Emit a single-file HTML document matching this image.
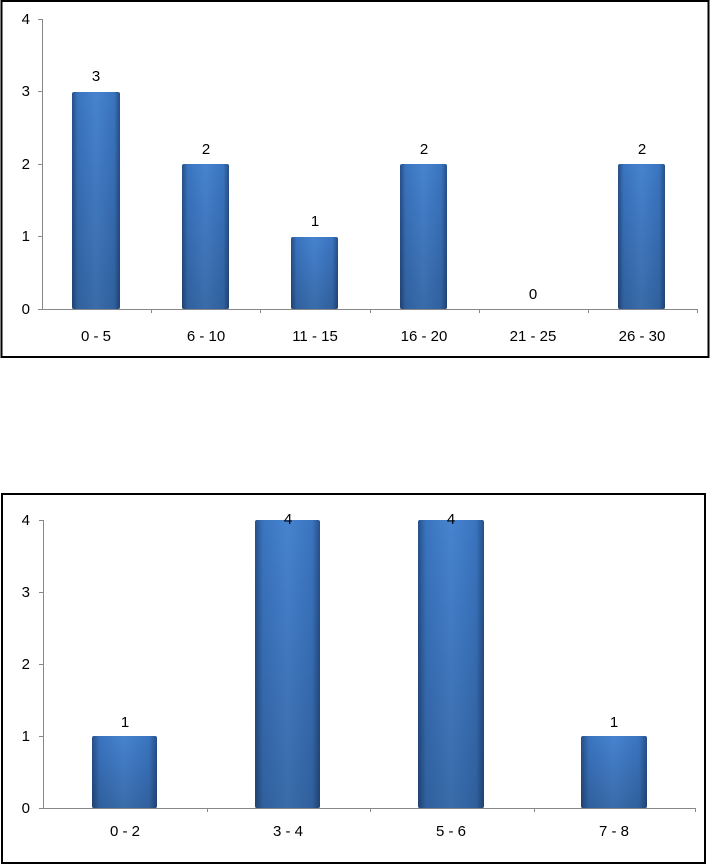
<!DOCTYPE html>
<html><head><meta charset="utf-8"><style>
html,body{margin:0;padding:0;background:#fff;}
svg{display:block;}
text{font-family:"Liberation Sans",Arial,sans-serif;font-size:15px;fill:#000;}
</style></head><body>
<svg width="710" height="866" viewBox="0 0 710 866" xmlns="http://www.w3.org/2000/svg">
<defs>
<linearGradient id="h" x1="0" y1="0" x2="1" y2="0">
<stop offset="0" stop-color="#264f88"/>
<stop offset="0.12" stop-color="#3a74bf"/>
<stop offset="0.5" stop-color="#4683cf"/>
<stop offset="0.88" stop-color="#3a74bf"/>
<stop offset="1" stop-color="#264f88"/>
</linearGradient>
<linearGradient id="v" x1="0" y1="0" x2="0" y2="1">
<stop offset="0" stop-color="#000" stop-opacity="0"/>
<stop offset="1" stop-color="#000" stop-opacity="0.18"/>
</linearGradient>
</defs>
<!-- Chart 1 -->
<rect x="1.5" y="1" width="707" height="356" fill="#fff" stroke="#000" stroke-width="2"/>
<g stroke="#888" stroke-width="1">
<line x1="42.5" y1="19" x2="42.5" y2="310"/>
<line x1="42" y1="309.5" x2="698" y2="309.5"/>
<line x1="38" y1="19.5" x2="42" y2="19.5"/>
<line x1="38" y1="91.5" x2="42" y2="91.5"/>
<line x1="38" y1="164.5" x2="42" y2="164.5"/>
<line x1="38" y1="236.5" x2="42" y2="236.5"/>
<line x1="38" y1="309.5" x2="42" y2="309.5"/>
<line x1="151.5" y1="309" x2="151.5" y2="313"/>
<line x1="260.5" y1="309" x2="260.5" y2="313"/>
<line x1="370.5" y1="309" x2="370.5" y2="313"/>
<line x1="479.5" y1="309" x2="479.5" y2="313"/>
<line x1="588.5" y1="309" x2="588.5" y2="313"/>
<line x1="697.5" y1="309" x2="697.5" y2="313"/>
</g>
<g text-anchor="end">
<text x="30" y="24">4</text><text x="30" y="96">3</text><text x="30" y="169">2</text><text x="30" y="241">1</text><text x="30" y="314">0</text>
</g>
<g>
<rect x="72" y="92" width="48" height="217" rx="2" fill="url(#h)"/><rect x="72" y="92" width="48" height="217" fill="url(#v)"/>
<rect x="182" y="164" width="47" height="145" rx="2" fill="url(#h)"/><rect x="182" y="164" width="47" height="145" fill="url(#v)"/>
<rect x="291" y="237" width="47" height="72" rx="2" fill="url(#h)"/><rect x="291" y="237" width="47" height="72" fill="url(#v)"/>
<rect x="400" y="164" width="47" height="145" rx="2" fill="url(#h)"/><rect x="400" y="164" width="47" height="145" fill="url(#v)"/>
<rect x="618" y="164" width="47" height="145" rx="2" fill="url(#h)"/><rect x="618" y="164" width="47" height="145" fill="url(#v)"/>
</g>
<g text-anchor="middle">
<text x="96" y="81">3</text><text x="206" y="154">2</text><text x="315" y="226">1</text><text x="424" y="154">2</text><text x="533" y="299">0</text><text x="642" y="154">2</text>
<text x="96" y="341">0 - 5</text><text x="206" y="341">6 - 10</text><text x="315" y="341">11 - 15</text><text x="424" y="341">16 - 20</text><text x="533" y="341">21 - 25</text><text x="642" y="341">26 - 30</text>
</g>
<!-- Chart 2 -->
<rect x="2" y="494" width="703" height="369" fill="#fff" stroke="#000" stroke-width="2"/>
<g stroke="#888" stroke-width="1">
<line x1="43.5" y1="520" x2="43.5" y2="809"/>
<line x1="43" y1="808.5" x2="695" y2="808.5"/>
<line x1="39" y1="520.5" x2="43" y2="520.5"/>
<line x1="39" y1="592.5" x2="43" y2="592.5"/>
<line x1="39" y1="664.5" x2="43" y2="664.5"/>
<line x1="39" y1="736.5" x2="43" y2="736.5"/>
<line x1="39" y1="808.5" x2="43" y2="808.5"/>
<line x1="207.5" y1="808" x2="207.5" y2="812"/>
<line x1="370.5" y1="808" x2="370.5" y2="812"/>
<line x1="534.5" y1="808" x2="534.5" y2="812"/>
<line x1="695.5" y1="808" x2="695.5" y2="812"/>
</g>
<g text-anchor="end">
<text x="30" y="525">4</text><text x="30" y="597">3</text><text x="30" y="669">2</text><text x="30" y="741">1</text><text x="30" y="813">0</text>
</g>
<g>
<rect x="92" y="736" width="65" height="72" rx="2" fill="url(#h)"/><rect x="92" y="736" width="65" height="72" fill="url(#v)"/>
<rect x="255" y="520" width="65" height="288" rx="2" fill="url(#h)"/><rect x="255" y="520" width="65" height="288" fill="url(#v)"/>
<rect x="418" y="520" width="66" height="288" rx="2" fill="url(#h)"/><rect x="418" y="520" width="66" height="288" fill="url(#v)"/>
<rect x="581" y="736" width="66" height="72" rx="2" fill="url(#h)"/><rect x="581" y="736" width="66" height="72" fill="url(#v)"/>
</g>
<g text-anchor="middle">
<text x="125" y="727">1</text><text x="288" y="524">4</text><text x="451" y="524">4</text><text x="614" y="727">1</text>
<text x="125" y="836">0 - 2</text><text x="288" y="836">3 - 4</text><text x="451" y="836">5 - 6</text><text x="614" y="836">7 - 8</text>
</g>
</svg>
</body></html>
